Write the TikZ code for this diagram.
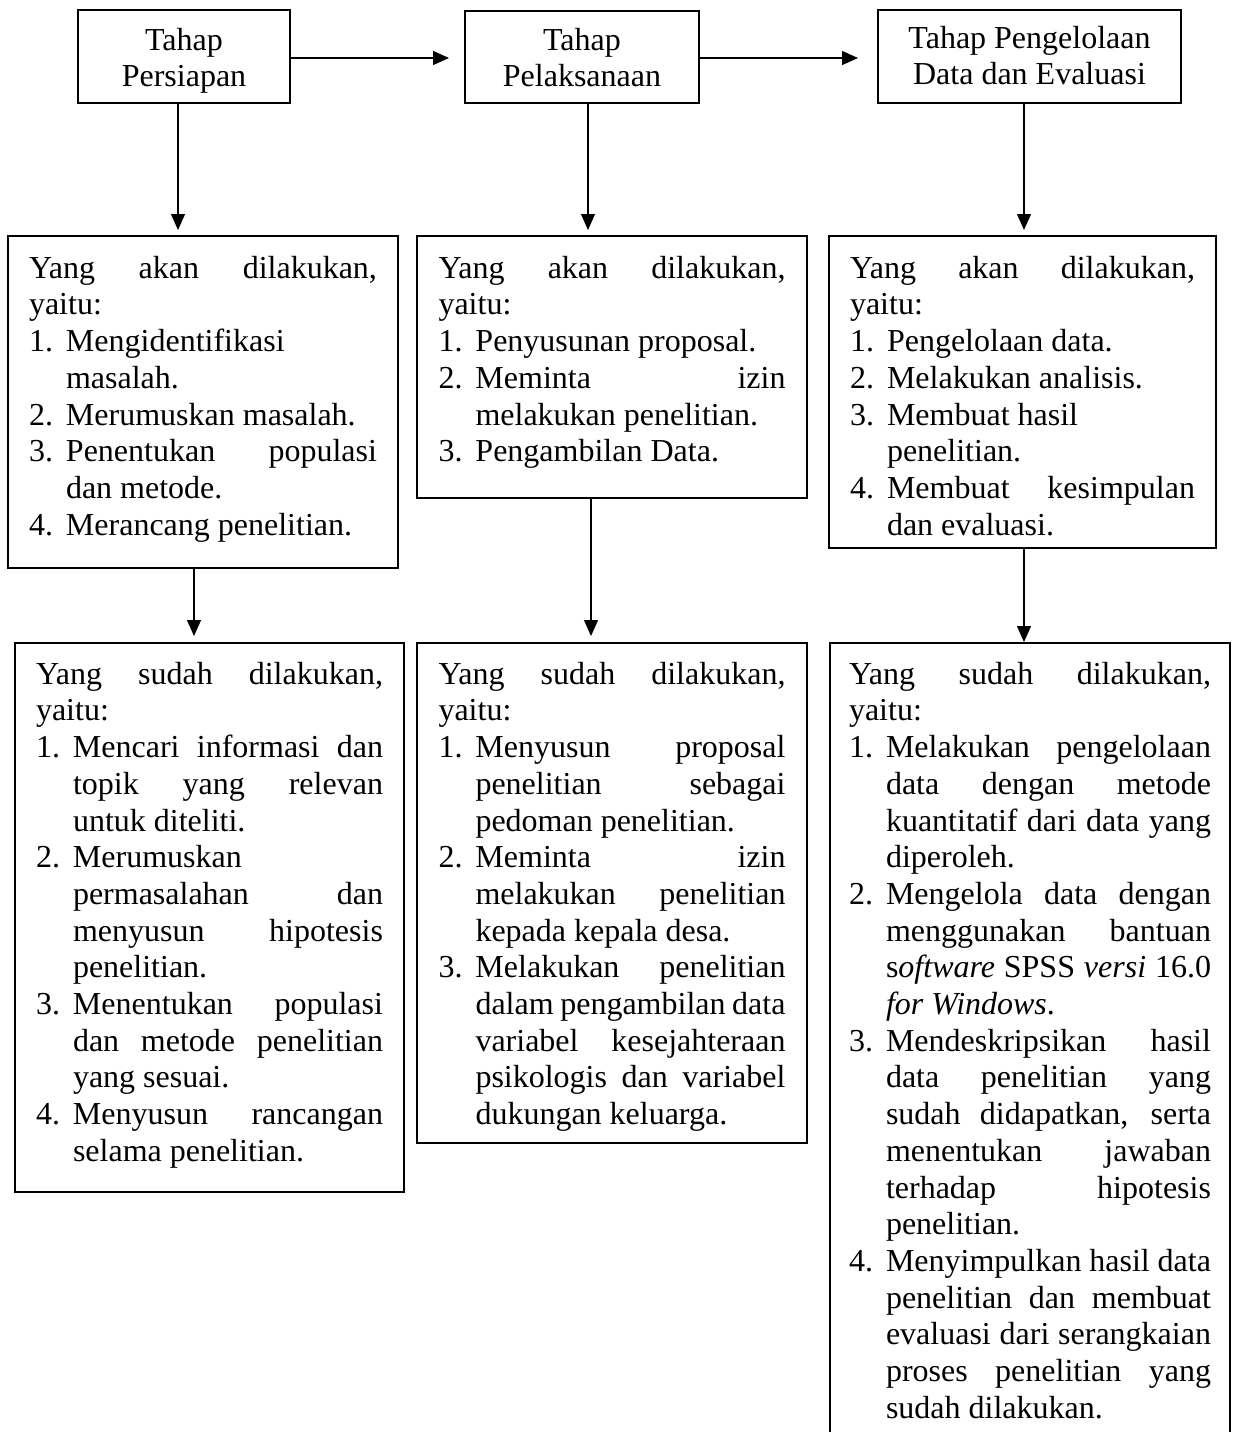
\documentclass[tikz,border=0pt]{standalone}
\usepackage{fontspec}
\setmainfont{Liberation Serif}
\usetikzlibrary{arrows.meta}
\newcommand\setjust{\hyphenpenalty=10000 \exhyphenpenalty=10000 \tolerance=10000 \emergencystretch=0pt \parfillskip=0pt plus 1fil\relax}
\newcommand\bxt[4]{\parbox[t][#1][t]{#2}{\setjust\vspace*{#3}#4}}
\newcommand\ritem[2]{\par\noindent\hangindent=37pt\hangafter=1\makebox[37pt][l]{#1}#2\par}
\tikzset{
  box/.style={draw, line width=1.6pt, inner ysep=0pt, outer sep=0pt, anchor=north west,
              font=\fontsize{32}{36.7}\selectfont},
  arr/.style={-{Triangle[length=16pt,width=14pt]}, line width=1.2pt},
}
\begin{document}
\begin{tikzpicture}[x=1pt,y=-1pt]
\path[use as bounding box] (0,0) rectangle (1237,1432);
\clip (0,0) rectangle (1237,1432);

% top row
\node[box, inner xsep=0pt] (B1) at (78,10)
  {\bxt{93pt}{212pt}{18pt}{\centering Tahap\\Persiapan\par}};
\node[box, inner xsep=0pt] (B2) at (465,11)
  {\bxt{92pt}{234pt}{17pt}{\centering Tahap\\Pelaksanaan\par}};
\node[box, inner xsep=0pt] (B3) at (878,10)
  {\bxt{93pt}{303pt}{16pt}{\centering Tahap Pengelolaan\\Data dan Evaluasi\par}};

% middle row
\node[box, inner xsep=21pt] (M1) at (8,236)
  {\bxt{332pt}{348pt}{20pt}{Yang akan dilakukan,\linebreak yaitu:
   \ritem{1.}{Mengidentifikasi\newline masalah.}
   \ritem{2.}{Merumuskan masalah.}
   \ritem{3.}{Penentukan populasi\linebreak dan metode.}
   \ritem{4.}{Merancang penelitian.}}};
\node[box, inner xsep=21.5pt] (M2) at (417,236)
  {\bxt{262pt}{347pt}{20pt}{Yang akan dilakukan,\linebreak yaitu:
   \ritem{1.}{Penyusunan proposal.}
   \ritem{2.}{Meminta izin\linebreak melakukan penelitian.}
   \ritem{3.}{Pengambilan Data.}}};
\node[box, inner xsep=21pt] (M3) at (829,236)
  {\bxt{312pt}{345pt}{20pt}{Yang akan dilakukan,\linebreak yaitu:
   \ritem{1.}{Pengelolaan data.}
   \ritem{2.}{Melakukan analisis.}
   \ritem{3.}{Membuat hasil\newline penelitian.}
   \ritem{4.}{Membuat kesimpulan\linebreak dan evaluasi.}}};

% bottom row
\node[box, inner xsep=21pt] (L1) at (15,643)
  {\bxt{549pt}{347pt}{19pt}{Yang sudah dilakukan,\linebreak yaitu:
   \ritem{1.}{Mencari informasi dan\linebreak topik yang relevan\linebreak untuk diteliti.}
   \ritem{2.}{Merumuskan\newline permasalahan dan\linebreak menyusun hipotesis\linebreak penelitian.}
   \ritem{3.}{Menentukan populasi\linebreak dan metode penelitian\linebreak yang sesuai.}
   \ritem{4.}{Menyusun rancangan\linebreak selama penelitian.}}};
\node[box, inner xsep=21.5pt] (L2) at (417,643)
  {\bxt{500pt}{347pt}{19pt}{Yang sudah dilakukan,\linebreak yaitu:
   \ritem{1.}{Menyusun proposal\linebreak penelitian sebagai\linebreak pedoman penelitian.}
   \ritem{2.}{Meminta izin\linebreak melakukan penelitian\linebreak kepada kepala desa.}
   \ritem{3.}{Melakukan penelitian\linebreak dalam pengambilan data\linebreak variabel kesejahteraan\linebreak psikologis dan variabel\linebreak dukungan keluarga.}}};
\node[box, inner xsep=19pt] (L3) at (830,643)
  {\bxt{830pt}{362pt}{19pt}{Yang sudah dilakukan,\linebreak yaitu:
   \ritem{1.}{Melakukan pengelolaan\linebreak data dengan metode\linebreak kuantitatif dari data yang\linebreak diperoleh.}
   \ritem{2.}{Mengelola data dengan\linebreak menggunakan bantuan\linebreak s\textit{oftware} SPSS \textit{versi} 16.0\linebreak \textit{for Windows}.}
   \ritem{3.}{Mendeskripsikan hasil\linebreak data penelitian yang\linebreak sudah didapatkan, serta\linebreak menentukan jawaban\linebreak terhadap hipotesis\linebreak penelitian.}
   \ritem{4.}{Menyimpulkan hasil data\linebreak penelitian dan membuat\linebreak evaluasi dari serangkaian\linebreak proses penelitian yang\linebreak sudah dilakukan.}}};

% connectors
\coordinate (h1) at (0,58);
\coordinate (v1) at (178,0);
\coordinate (v2) at (588,0);
\coordinate (v3) at (1024,0);
\coordinate (w1) at (194,0);
\coordinate (w2) at (591,0);
\coordinate (w3) at (1024,0);

\draw[arr, shorten >=16pt] (B1.east |- h1) -- (B2.west |- h1);
\draw[arr, shorten >=20pt] (B2.east |- h1) -- (B3.west |- h1);

\draw[arr, shorten >=6pt] (B1.south -| v1) -- (M1.north -| v1);
\draw[arr, shorten >=6pt] (B2.south -| v2) -- (M2.north -| v2);
\draw[arr, shorten >=6pt] (B3.south -| v3) -- (M3.north -| v3);

\draw[arr, shorten >=7pt] (M1.south -| w1) -- (L1.north -| w1);
\draw[arr, shorten >=7pt] (M2.south -| w2) -- (L2.north -| w2);
\draw[arr, shorten >=1pt] (M3.south -| w3) -- (L3.north -| w3);
\end{tikzpicture}
\end{document}
